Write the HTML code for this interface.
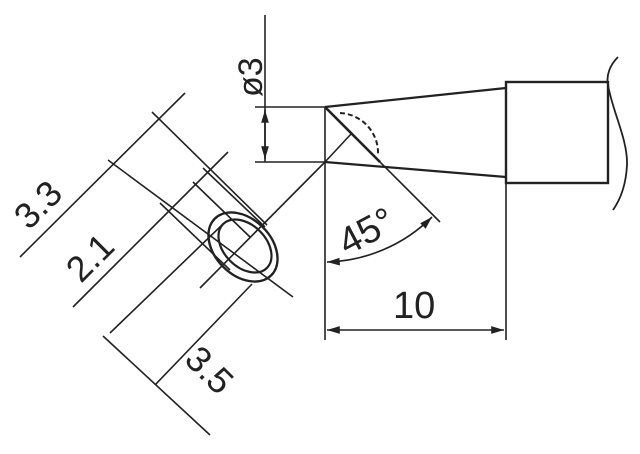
<!DOCTYPE html>
<html><head><style>body{margin:0;background:#fff}svg{display:block}</style></head><body>
<svg width="640" height="454" viewBox="0 0 640 454" xmlns="http://www.w3.org/2000/svg" font-family="Liberation Sans, sans-serif" fill="none" stroke="#222" stroke-width="1.6">
<defs><marker id="a" viewBox="0 0 10 10" refX="10" refY="5" markerWidth="8" markerHeight="8" orient="auto-start-reverse"><path d="M0,2 L10,5 L0,8z" fill="#222" stroke="none"/></marker></defs>
<!-- ø3 -->
<line x1="265" y1="15" x2="265" y2="162"/>
<line x1="255" y1="107" x2="325" y2="107"/>
<line x1="255" y1="162" x2="325" y2="162"/>
<line x1="265" y1="110" x2="265" y2="159" marker-start="url(#a)" marker-end="url(#a)"/>
<text x="0" y="0" transform="translate(262,97) rotate(-90)" font-size="34" fill="#222" stroke="none">ø3</text>
<!-- tip -->
<path d="M325,107 L506,88 M325,162 L506,177" stroke-width="2.2"/>
<rect x="506" y="82" width="102" height="101" stroke-width="2.4"/>
<path d="M618,57 C610,65 606,75 608,85 C612,110 628,140 627,165 C626,185 620,200 613,210" stroke-width="1.8"/>
<line x1="325" y1="107" x2="440" y2="222"/>
<line x1="325" y1="107" x2="380" y2="162" stroke-width="2.6"/>
<line x1="325" y1="107" x2="325" y2="340"/>
<path d="M340,113 A40,40 0 0 1 378,155" stroke-dasharray="5,3" stroke-width="2"/>
<line x1="325" y1="162" x2="352" y2="133"/>
<!-- 45 -->
<path d="M327,262 A155,155 0 0 0 432,217" marker-start="url(#a)" marker-end="url(#a)"/>
<text x="0" y="0" transform="translate(347,256) rotate(-28)" font-size="38" fill="#222" stroke="none">45°</text>
<!-- 10 -->
<line x1="506" y1="177" x2="506" y2="340"/>
<line x1="327" y1="330" x2="504" y2="330" marker-start="url(#a)" marker-end="url(#a)"/>
<text x="393" y="318" font-size="38" fill="#222" stroke="none">10</text>
<!-- left view -->
<line x1="325" y1="162" x2="200" y2="288"/>
<line x1="185" y1="93" x2="20" y2="257"/>
<line x1="152" y1="112" x2="267" y2="225"/>
<line x1="108" y1="160" x2="293" y2="297"/>
<line x1="228" y1="152" x2="73" y2="307"/>
<line x1="203" y1="168" x2="265" y2="227"/>
<line x1="193" y1="182" x2="250" y2="237"/>
<line x1="160" y1="203" x2="230" y2="270"/>
<line x1="110" y1="333" x2="222" y2="225"/>
<line x1="155" y1="385" x2="252" y2="284"/>
<line x1="103" y1="336" x2="210" y2="435"/>
<ellipse cx="243" cy="247" rx="40" ry="28" transform="rotate(45 243 247)" stroke-width="2.4"/>
<ellipse cx="245" cy="246" rx="31" ry="21" transform="rotate(45 245 246)" stroke-width="2.2"/>
<text x="0" y="0" transform="translate(29,231) rotate(-45)" font-size="36" fill="#222" stroke="none">3.3</text>
<text x="0" y="0" transform="translate(81,284) rotate(-45)" font-size="36" fill="#222" stroke="none">2.1</text>
<text x="0" y="0" transform="translate(183,361) rotate(45)" font-size="36" fill="#222" stroke="none">3.5</text>
</svg>
</body></html>
